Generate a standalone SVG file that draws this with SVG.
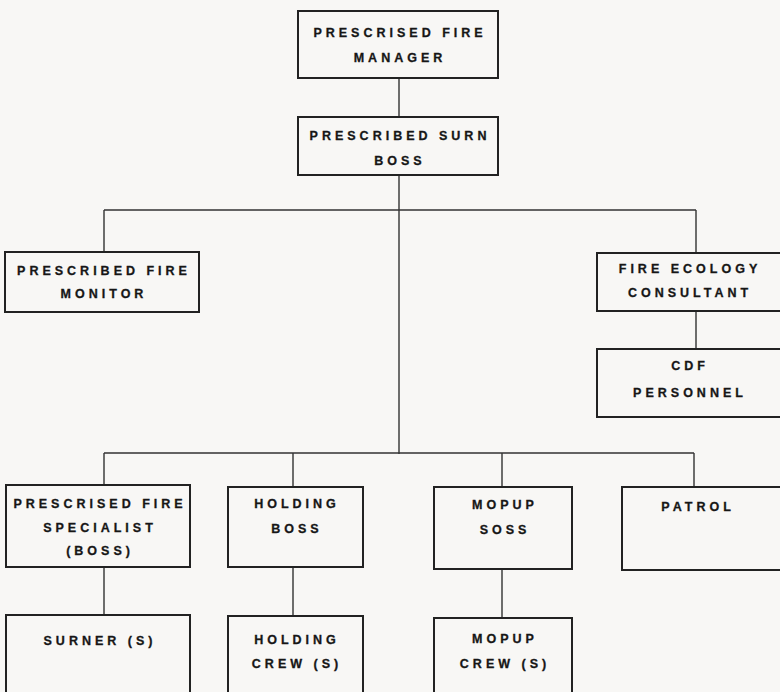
<svg xmlns="http://www.w3.org/2000/svg" width="780" height="692" viewBox="0 0 780 692">
<style>
.b{fill:none;stroke:#222;stroke-width:2}
.c{fill:none;stroke:#333;stroke-width:1.4}
text{font-family:"Liberation Sans",Arial,sans-serif;font-weight:bold;font-size:12.5px;letter-spacing:4px;fill:#161616;stroke:#161616;stroke-width:0.3;text-anchor:middle}
</style>
<rect width="780" height="692" fill="#f8f7f5"/>
<g id="connectors">
<path class="c" d="M399 78V117M399 175V454M104 210H696M104 210V252M696 210V253M696 311V349M104 453H694M104 453V485M293 453V487M502 453V487M694 453V487M104 567V615M293 567V616M502 569V618"/>
</g>
<g id="manager"><rect class="b" x="298" y="11" width="200" height="67"/><text x="400" y="37">PRESCRISED FIRE</text><text x="400" y="62">MANAGER</text></g>
<g id="burnboss"><rect class="b" x="298" y="117" width="200" height="58"/><text x="400" y="140">PRESCRIBED SURN</text><text x="400" y="165">BOSS</text></g>
<g id="monitor"><rect class="b" x="5" y="252" width="194" height="60"/><text x="104" y="275">PRESCRIBED FIRE</text><text x="104" y="298">MONITOR</text></g>
<g id="consultant"><rect class="b" x="597" y="253" width="190" height="58"/><text x="690" y="273">FIRE ECOLOGY</text><text x="690" y="297">CONSULTANT</text></g>
<g id="cdf"><rect class="b" x="597" y="349" width="190" height="68"/><text x="690" y="370">CDF</text><text x="690" y="397">PERSONNEL</text></g>
<g id="specialist"><rect class="b" x="6" y="485" width="184" height="82"/><text x="100" y="508">PRESCRISED FIRE</text><text x="100" y="532">SPECIALIST</text><text x="100" y="555">(BOSS)</text></g>
<g id="holdingboss"><rect class="b" x="228" y="487" width="135" height="80"/><text x="297" y="508">HOLDING</text><text x="297" y="533">BOSS</text></g>
<g id="mopupboss"><rect class="b" x="434" y="487" width="138" height="82"/><text x="505" y="509">MOPUP</text><text x="505" y="534">SOSS</text></g>
<g id="patrol"><rect class="b" x="622" y="487" width="170" height="83"/><text x="698" y="511">PATROL</text></g>
<g id="burner"><rect class="b" x="6" y="615" width="184" height="90"/><text x="100" y="645">SURNER (S)</text></g>
<g id="holdingcrew"><rect class="b" x="228" y="616" width="135" height="90"/><text x="297" y="644">HOLDING</text><text x="297" y="668">CREW (S)</text></g>
<g id="mopupcrew"><rect class="b" x="434" y="618" width="138" height="90"/><text x="505" y="643">MOPUP</text><text x="505" y="668">CREW (S)</text></g>
</svg>
